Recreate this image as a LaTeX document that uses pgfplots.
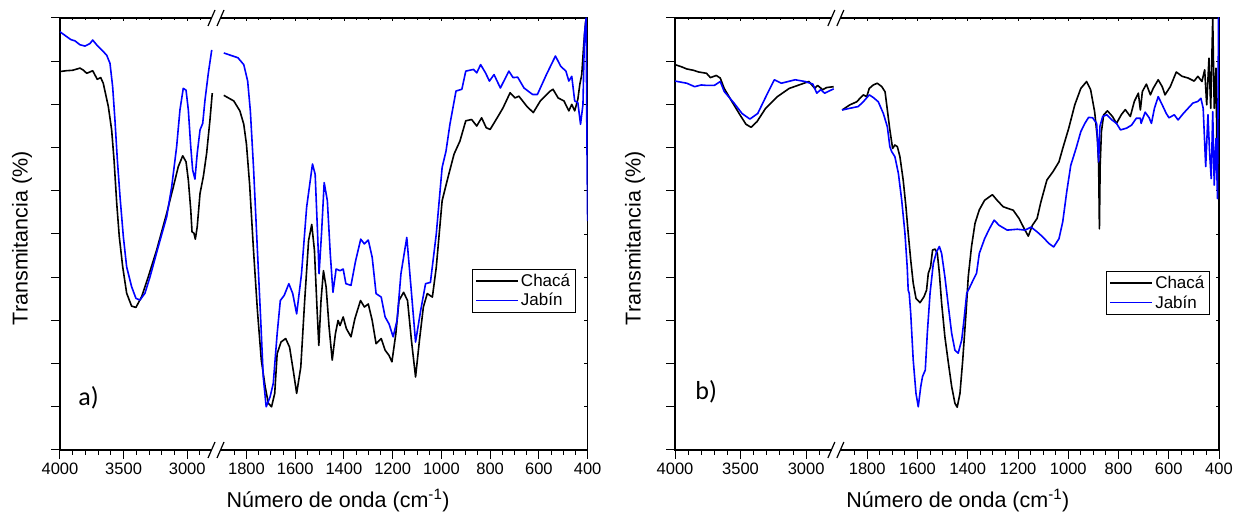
\documentclass[border=0pt]{standalone}
\usepackage{fontspec}
\setmainfont{Liberation Sans}
\newfontfamily\carlito{Carlito}
\usepackage{pgfplots}
\pgfplotsset{compat=1.18}
\definecolor{jblue}{RGB}{0,0,255}

\pgfplotsset{
  ftir/.style={
    scale only axis,
    height=432pt,
    xmin=4000, xmax=400, ymin=0, ymax=100,
    x coord trafo/.code={\pgfmathparse{(##1>2300)*((4000-##1)*0.1272)+(##1<=2300)*(156+(1925-##1)*0.2437)}},
    xtick={4000,3500,3000,1800,1600,1400,1200,1000,800,600,400},
    minor xtick={3900,3800,3700,3600,3400,3300,3200,3100,2900,1850,1750,1700,1650,1550,1500,1450,1350,1300,1250,1150,1100,1050,950,900,850,750,700,650,550,500,450},
    ytick={0,10,...,100},
    /pgf/number format/assume math mode=true,
  },
  mainax/.style={
    ftir,
    xticklabels={4000,3500,3000,1800,1600,1400,1200,1000,800,600,400},
    yticklabels={},
    xtick pos=left, ytick pos=left,
    tick align=outside,
    major tick length=9pt, minor tick length=5pt,
    tick style={black, line width=1pt},
    axis line style={line width=1.3pt},
    xticklabel style={font=\fontsize{16.5}{18}\selectfont},
    xlabel={Número de onda (cm\textsuperscript{-1})},
    ylabel={Transmitancia (\%)},
    label style={font=\fontsize{21.5}{24}\selectfont},
    legend cell align=left,
    legend style={anchor=north east, draw=black, line width=0.7pt,
      font=\fontsize{17}{19}\selectfont, inner xsep=3pt, inner ysep=2.5pt,
      row sep=1.5pt},
    legend image code/.code={\draw[##1, line width=1.6pt] (0pt,0pt) -- (42pt,0pt);},
  },
  overax/.style={
    ftir,
    xticklabels={}, yticklabels={},
    xtick pos=right, ytick pos=right,
    tick align=inside,
    major tick length=3.5pt, minor tick length=2.5pt,
    tick style={black, line width=0.8pt},
    axis line style={line width=1.3pt},
  },
  cb/.style={black, line width=1.6pt, line join=round},
  cj/.style={jblue, line width=1.6pt, line join=round},
}

\begin{document}
\begin{tikzpicture}
\useasboundingbox (0,0) rectangle (1235pt,516pt);

% ---------------- panel a ----------------
\begin{axis}[overax, at={(60pt,66pt)}, anchor=south west, width=527.6pt]
\addplot[draw=none] coordinates {(4000,50)};
\end{axis}
\begin{axis}[mainax, at={(60pt,66pt)}, anchor=south west, width=527.6pt,
  xlabel style={at={(axis description cs:0.527,-0.132)}, anchor=base},
  ylabel style={at={(axis description cs:-0.072,0.49)}, anchor=center},
  legend style={at={(rel axis cs:0.977,0.419)}}]
\addplot[cb] coordinates {(4000,87.6) (3950,87.8) (3900,87.9) (3843,88.4) (3815,87.9) (3790,87.2) (3765,87.5) (3743,87.8) (3707,85.8) (3680,86.2) (3660,84.9) (3620,79.5) (3594,74.1) (3575,67.1) (3554,57.1) (3534,49.4) (3507,42.4) (3476,36.3) (3437,33.3) (3403,33.0) (3358,35.5) (3306,40.1) (3240,46.3) (3161,54.8) (3109,60.9) (3070,65.6) (3035,68.1) (3009,66.7) (2991,62.5) (2972,55.6) (2962,50.5) (2947,50.2) (2936,48.8) (2921,51.7) (2899,59.4) (2873,63.3) (2847,68.7) (2821,76.4) (2803,82.6)};
\addlegendentry{Chacá}
\addplot[cj] coordinates {(4000,96.8) (3948,95.7) (3915,95.0) (3882,94.7) (3843,93.8) (3803,93.5) (3764,94.1) (3743,94.9) (3712,93.8) (3672,92.6) (3633,91.4) (3607,89.5) (3586,84.1) (3568,76.4) (3549,67.1) (3528,58.6) (3502,49.4) (3476,42.4) (3437,37.8) (3403,35.1) (3371,34.7) (3332,36.3) (3292,40.1) (3227,47.1) (3161,54) (3122,60.9) (3083,70.2) (3057,78.7) (3031,83.7) (3009,83.3) (2991,78.7) (2972,70.2) (2957,64.8) (2939,62.7) (2921,68.7) (2899,74.1) (2878,75.6) (2860,81) (2834,87.2) (2807,92.6)};
\addlegendentry{Jabín}
\addplot[cb, forget plot] coordinates {(1893,82.1) (1852,80.8) (1827,78.5) (1811,75.4) (1800,70.8) (1787,61.5) (1771,46.2) (1755,32.3) (1739,20.8) (1723,14.6) (1710,10.8) (1697,10) (1684,13.1) (1674,22.3) (1658,25) (1639,25.8) (1623,23.8) (1606,17.7) (1594,13.1) (1577,19.2) (1561,34.6) (1545,48.5) (1532,52.2) (1521,46.2) (1510,32.3) (1503,24.2) (1494,34.6) (1484,41.5) (1473,37.7) (1461,28.5) (1448,20.8) (1435,26.9) (1424,30) (1416,28.8) (1403,30.8) (1390,28.1) (1371,26.2) (1355,30.4) (1332,34.6) (1316,33.1) (1300,33.8) (1284,30) (1268,24.6) (1247,25.8) (1231,23.1) (1215,21.9) (1203,20.4) (1187,26.9) (1174,34.6) (1155,36.5) (1139,34.6) (1123,25.4) (1106,16.9) (1090,25.4) (1074,33.1) (1058,36.2) (1037,35.4) (1021,42.3) (997,57.7) (973,63.1) (948,68.5) (924,71.5) (900,76.2) (876,76.5) (855,75) (835,76.9) (816,74.6) (800,74.2) (771,76.9) (747,79.2) (718,82.7) (698,81.5) (682,81.9) (650,79.6) (623,78.1) (594,80.8) (553,83.1) (542,83.5) (521,81.5) (497,80.8) (477,78.5) (465,80) (453,78.5) (440,81.2) (432,84.6) (424,86.9) (416,93.8) (408,99.2) (402,97.7) (400,80.8)};
\addplot[cj, forget plot] coordinates {(1893,91.9) (1835,90.8) (1811,89.2) (1795,85.4) (1784,78.5) (1771,65.4) (1755,46.2) (1742,30.8) (1731,16.9) (1719,10) (1703,12.3) (1690,15.4) (1674,26.9) (1661,34.6) (1645,35.8) (1626,38.5) (1610,36.2) (1594,31.5) (1574,40.8) (1553,56.2) (1529,66.2) (1518,63.8) (1508,50) (1502,40.8) (1492,50) (1481,61.9) (1468,57.7) (1456,45.4) (1445,36.5) (1432,41.9) (1416,41.5) (1403,41.9) (1392,38.5) (1371,38.1) (1352,43.8) (1331,48.8) (1316,47.7) (1300,48.6) (1284,44.6) (1268,36.2) (1247,35.4) (1231,30.8) (1215,29.2) (1198,26.2) (1182,30) (1166,40.8) (1142,49.2) (1126,38.5) (1106,25) (1085,32.3) (1065,38.5) (1045,38.8) (1021,50) (997,65.4) (981,69.2) (965,75.4) (940,83.1) (916,83.5) (900,87.7) (868,88.1) (855,87.3) (839,89.2) (819,87.3) (803,85.4) (784,86.9) (758,83.8) (723,87.7) (706,86.2) (687,86.3) (661,83.8) (626,82.3) (606,82.3) (569,86.9) (532,91.2) (510,88.8) (489,87.7) (477,85.4) (465,86.5) (453,80.8) (440,80.4) (429,75.4) (419,80) (413,96.2) (406,100) (403,73) (400,53)};
\node[font=\carlito\fontsize{26}{28}\selectfont, anchor=base west] at (rel axis cs:0.028,0.102) {a)};
\coordinate (Ab) at (rel axis cs:0.2957,0);
\coordinate (At) at (rel axis cs:0.2957,1);
\end{axis}

% ---------------- panel b ----------------
\begin{axis}[overax, at={(675pt,66pt)}, anchor=south west, width=544pt]
\addplot[draw=none] coordinates {(4000,50)};
\end{axis}
\begin{axis}[mainax, at={(675pt,66pt)}, anchor=south west, width=544pt,
  xlabel style={at={(axis description cs:0.52,-0.132)}, anchor=base},
  ylabel style={at={(axis description cs:-0.0735,0.49)}, anchor=center},
  legend style={at={(rel axis cs:0.983,0.414)}}]
\addplot[cb] coordinates {(4000,89.2) (3950,88.7) (3910,88.2) (3860,87.9) (3820,87.5) (3760,87.2) (3730,86.2) (3685,86.7) (3655,86.1) (3625,83.7) (3565,80.6) (3505,77.6) (3459,75.4) (3420,74.7) (3375,76) (3309,79.1) (3219,81.8) (3129,83.7) (3054,84.5) (2979,85.3) (2934,83.7) (2913,84.4) (2874,83.4) (2844,83.9) (2790,84.1)};
\addlegendentry{Chacá}
\addplot[cj] coordinates {(4000,85.4) (3910,84.9) (3850,84.1) (3800,84.5) (3760,84.4) (3700,84.4) (3655,85.3) (3625,83) (3550,80.3) (3489,77.9) (3429,76.6) (3369,77.9) (3294,82.6) (3243,85.7) (3189,84.9) (3084,85.7) (3009,85.3) (2949,84.7) (2919,82.6) (2889,83.4) (2859,82.6) (2790,83.6)};
\addlegendentry{Jabín}
\addplot[cb, forget plot] coordinates {(1900,78.7) (1869,79.9) (1842,80.6) (1816,82.2) (1802,81.8) (1792,83.7) (1776,84.5) (1760,84.9) (1742,84.1) (1729,82.9) (1720,78.7) (1710,74.1) (1699,69.8) (1690,70.6) (1680,70.2) (1670,67.9) (1657,62.5) (1646,56.3) (1637,50.2) (1627,44) (1617,38.6) (1606,35.1) (1590,34.1) (1574,35.5) (1564,37) (1557,40.9) (1548,42.4) (1540,46.3) (1530,46.5) (1521,45.5) (1513,40.9) (1504,34) (1491,26.2) (1477,20.1) (1464,14.7) (1451,10.8) (1442,9.9) (1431,13.1) (1420,20.8) (1407,31.6) (1398,40.1) (1385,47.1) (1371,52.5) (1354,55.6) (1333,57.8) (1302,59.1) (1283,57.8) (1259,56.3) (1219,55.5) (1196,53.6) (1175,51.2) (1159,49.5) (1143,52) (1124,53.6) (1109,57.4) (1085,62.5) (1061,64.4) (1037,66.7) (1022,69.8) (998,74.5) (974,79.9) (950,83.7) (927,85.3) (911,83.4) (895,78.3) (884,72.1) (879,65.9) (876,51.2) (873,65.9) (868,73.7) (859,77.6) (844,78.5) (824,77.2) (808,75.6) (789,77.6) (773,78.8) (753,77.2) (737,80.7) (721,82.6) (713,78.7) (705,83) (689,84.7) (673,82.2) (662,83.7) (642,85.7) (626,84.1) (615,82.2) (594,84.1) (570,87.5) (547,86.5) (523,86.1) (499,85.4) (484,86.5) (468,85.3) (457,88) (449,79.9) (440,90.7) (433,79.1) (425,100) (419,79.1) (412,88.4) (408,67.5) (403,81.4) (400,77.6)};
\addplot[cj, forget plot] coordinates {(1900,78.7) (1869,79.1) (1836,79.5) (1816,80.6) (1792,82.2) (1776,81.6) (1756,80.6) (1736,77.9) (1720,74.8) (1710,70.2) (1703,69.1) (1690,67.9) (1676,64) (1663,57.9) (1650,50.2) (1641,42.4) (1637,37) (1633,36.3) (1627,31.6) (1617,20.8) (1606,13.1) (1597,10) (1587,14.7) (1580,17) (1569,18.5) (1561,27) (1550,36.3) (1537,43.2) (1524,45.9) (1513,47.1) (1504,45.5) (1491,40.1) (1477,33.2) (1464,27) (1451,23.1) (1438,22.4) (1424,25.5) (1415,30.1) (1404,36.3) (1391,37.8) (1378,39.4) (1365,40.9) (1354,45.5) (1333,48.9) (1314,51.2) (1295,53.2) (1275,52) (1243,50.9) (1203,51.1) (1172,50.9) (1148,51.6) (1124,50.5) (1101,49.3) (1077,47.8) (1058,47) (1037,48.9) (1022,52.8) (1006,59.8) (990,65.9) (969,69.8) (950,73.7) (934,75.6) (919,77) (903,76.9) (887,75.6) (879,66.7) (874,74.9) (863,77.2) (847,77.6) (826,76.4) (808,75.6) (792,74.1) (768,74.5) (748,75.2) (729,76.8) (713,76.8) (710,75.6) (694,78.2) (678,76.9) (669,75.6) (657,79.1) (642,81.8) (626,79.9) (610,77.9) (599,76.9) (578,77.6) (563,76.4) (542,77.9) (523,79.1) (504,80.3) (484,80.7) (472,81.4) (463,79.1) (453,65.6) (444,77.6) (437,68.3) (431,62.8) (425,78.3) (419,61.3) (412,72.1) (406,58.2) (402,100) (400,96.9)};
\node[font=\carlito\fontsize{26}{28}\selectfont, anchor=base west] at (rel axis cs:0.031,0.116) {b)};
\coordinate (Bb) at (rel axis cs:0.2957,0);
\coordinate (Bt) at (rel axis cs:0.2957,1);
\end{axis}

% break marks
\foreach \c in {Ab,At,Bb,Bt}{
  \fill[white] ([shift={(-4pt,-2.5pt)}]\c) rectangle ([shift={(4pt,2.5pt)}]\c);
  \draw[line width=1.2pt] ([shift={(-8pt,-8pt)}]\c) -- ([shift={(-1pt,8pt)}]\c);
  \draw[line width=1.2pt] ([shift={(1pt,-8pt)}]\c) -- ([shift={(8pt,8pt)}]\c);
}
\end{tikzpicture}
\end{document}
